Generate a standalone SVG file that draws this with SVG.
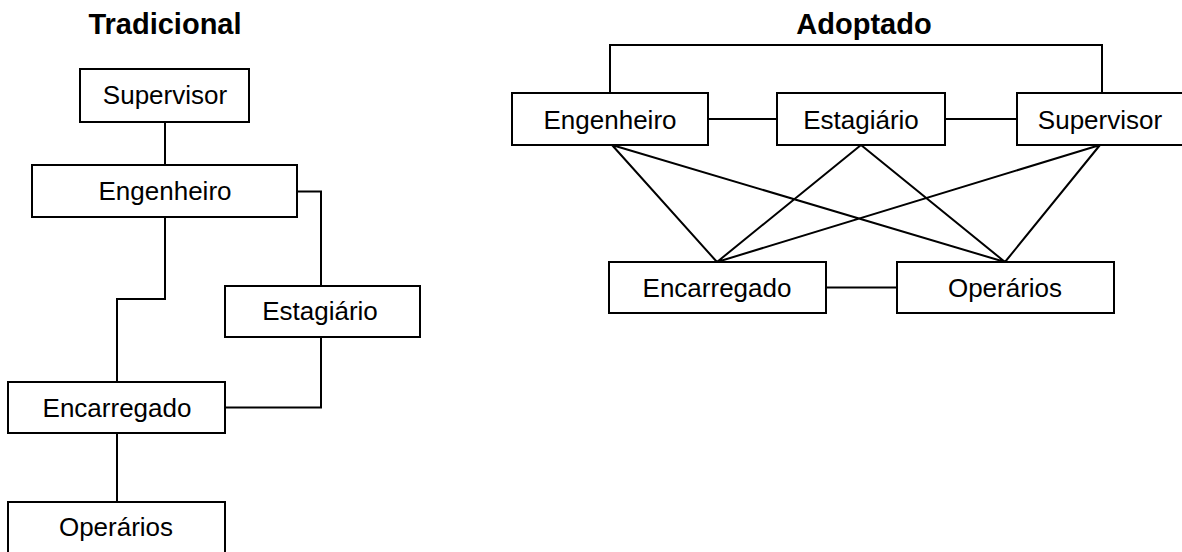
<svg xmlns="http://www.w3.org/2000/svg" width="1182" height="552" viewBox="0 0 1182 552">
<style>
.box{fill:#fff;stroke:#000;stroke-width:2}
.lbl{font-family:"Liberation Sans",Arial,sans-serif;font-size:26px;fill:#000;text-anchor:middle}
.ttl{font-family:"Liberation Sans",Arial,sans-serif;font-size:29px;font-weight:bold;fill:#000;text-anchor:middle}
.con{fill:none;stroke:#000;stroke-width:2}
</style>
<rect width="1182" height="552" fill="#fff"/>
<text class="ttl" x="165" y="34">Tradicional</text>
<text class="ttl" x="864" y="34">Adoptado</text>
<g id="connectors">
<path class="con" d="M165,122 V165"/>
<path class="con" d="M297,191.5 H321 V286"/>
<path class="con" d="M165,217 V299 H117 V382"/>
<path class="con" d="M321,337 V407.5 H225"/>
<path class="con" d="M117,433 V502"/>
<path class="con" d="M610,93 V45 H1102 V93"/>
<path class="con" d="M708,119 H777"/>
<path class="con" d="M945,119 H1017"/>
<path class="con" d="M826,287.5 H897"/>
<path class="con" d="M612,145 L717,262 M612,145 L1005,262 M861,145 L717,262 M861,145 L1005,262 M1100,145 L717,262 M1100,145 L1005,262"/>
</g>
<g id="t-supervisor"><rect class="box" x="80" y="69" width="169" height="53"/><text class="lbl" x="165" y="104">Supervisor</text></g>
<g id="t-engenheiro"><rect class="box" x="32" y="165" width="265" height="52"/><text class="lbl" x="165" y="200">Engenheiro</text></g>
<g id="t-estagiario"><rect class="box" x="225" y="286" width="195" height="51"/><text class="lbl" x="320" y="320">Estagiário</text></g>
<g id="t-encarregado"><rect class="box" x="8" y="382" width="217" height="51"/><text class="lbl" x="117" y="416.5">Encarregado</text></g>
<g id="t-operarios"><rect class="box" x="8" y="502" width="217" height="52"/><text class="lbl" x="116" y="535.5">Operários</text></g>
<g id="a-engenheiro"><rect class="box" x="512" y="93" width="196" height="52"/><text class="lbl" x="610" y="129">Engenheiro</text></g>
<g id="a-estagiario"><rect class="box" x="777" y="93" width="168" height="52"/><text class="lbl" x="861" y="129">Estagiário</text></g>
<g id="a-supervisor"><rect class="box" x="1017" y="93" width="168" height="52"/><text class="lbl" x="1100" y="129">Supervisor</text></g>
<g id="a-encarregado"><rect class="box" x="609" y="262" width="217" height="51"/><text class="lbl" x="717" y="296.5">Encarregado</text></g>
<g id="a-operarios"><rect class="box" x="897" y="262" width="217" height="51"/><text class="lbl" x="1005" y="296.5">Operários</text></g>
</svg>
